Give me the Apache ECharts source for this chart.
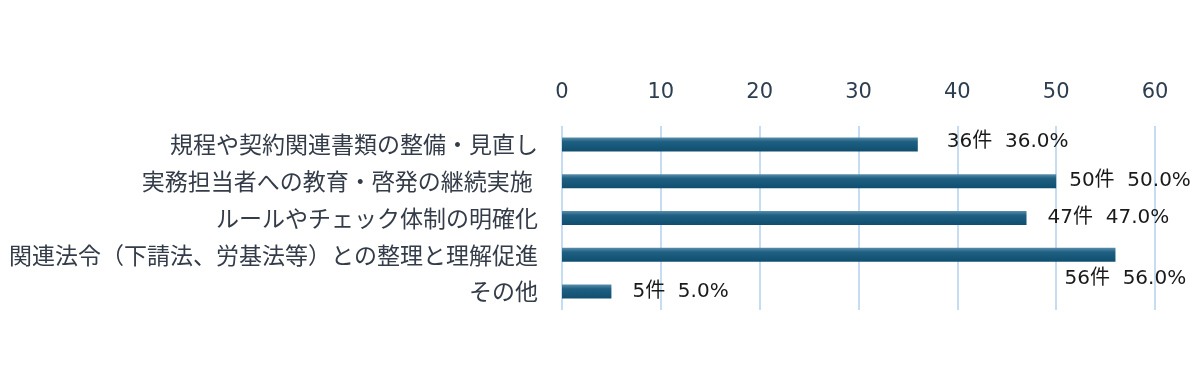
<!DOCTYPE html>
<html><head><meta charset="utf-8">
<script src="https://cdn.jsdelivr.net/npm/echarts@6/dist/echarts.min.js"></script>
<style>html,body{margin:0;padding:0;background:#fff}#c{width:1200px;height:390px}</style>
</head><body><div id="c"></div>
<script>
const categories = [
  '規程や契約関連書類の整備・見直し',
  '実務担当者への教育・啓発の継続実施 ',
  'ルールやチェック体制の明確化',
  '関連法令（下請法、労基法等）との整理と理解促進',
  'その他'
];
const counts = [36, 50, 47, 56, 5];
const percents = [36.0, 50.0, 47.0, 56.0, 5.0];
const labelOffsets = [[29, -3], [13, 0], [21, 0], [-51, 24], [21, 0]];

const chart = echarts.init(document.getElementById('c'));
chart.setOption({
  animation: false,
  grid: { left: 562, right: 45, top: 126, bottom: 80, containLabel: false },
  xAxis: {
    type: 'value', position: 'top', min: 0, max: 60, interval: 10,
    axisLine: { show: false }, axisTick: { show: false },
    axisLabel: { fontSize: 21, color: '#2c3e50', margin: 23, fontFamily: 'DejaVu Sans, sans-serif' },
    splitLine: { lineStyle: { color: '#c6dcf2', width: 2 } }
  },
  yAxis: {
    type: 'category', inverse: true, data: categories,
    axisLine: { show: false }, axisTick: { show: false },
    axisLabel: { fontSize: 23, color: '#333c48', margin: 24, fontFamily: 'Noto Sans CJK JP' }
  },
  series: [{
    type: 'bar', barWidth: 14,
    data: counts.map((v, i) => ({
      value: v,
      label: { offset: labelOffsets[i] }
    })),
    itemStyle: {
      color: new echarts.graphic.LinearGradient(0, 0, 0, 1, [
        { offset: 0, color: '#5a8eab' },
        { offset: 0.3, color: '#1f6083' },
        { offset: 1, color: '#0f4e6e' }
      ])
    },
    label: {
      show: true, position: 'right', distance: 0,
      fontSize: 20, color: '#1a1a1a',
      fontFamily: 'DejaVu Sans, Noto Sans CJK JP',
      formatter: p => counts[p.dataIndex] + '件  ' + percents[p.dataIndex].toFixed(1) + '%'
    }
  }]
});
</script></body></html>
